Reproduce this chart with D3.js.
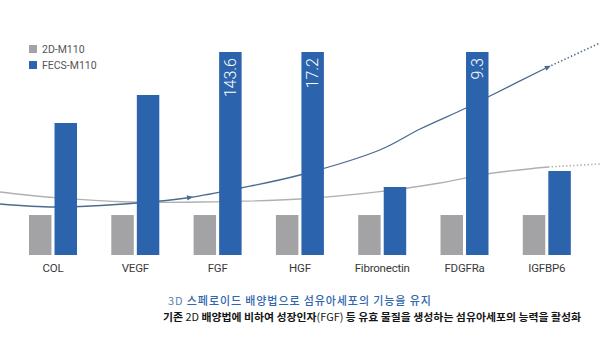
<!DOCTYPE html>
<html><head><meta charset="utf-8">
<script src="https://cdn.jsdelivr.net/npm/d3@7/dist/d3.min.js"></script>
<style>html,body{margin:0;padding:0;background:#fff;}svg{display:block;}</style>
</head><body><svg id="c" width="600" height="337"></svg>
<script>
const categories = ["COL","VEGF","FGF","HGF","Fibronectin","FDGFRa","IGFBP6"];
const seriesNames = ["2D-M110","FECS-M110"];
const values2D = [1,1,1,1,1,1,1];
const valuesFECS = [3.3,4.0,143.6,17.2,1.7,9.3,2.1];
const axisCap = 5.075;
// decorative trend curves, x in category-index units, y in value units
const blueTrendX = [-0.644,0.024,1.02,1.665,2.284,3.0,3.97,4.46,5.02,5.285,6.015];
const blueTrendY = [1.275,1.2,1.3,1.4375,1.675,2.0,2.625,3.15,3.675,3.95,4.7];
const blueDotX = [6.015,6.646];
const blueDotY = [4.7,5.3];
const blueArrowsAt = [1.665,6.015];
const grayTrendX = [-0.644,0.024,0.936,1.786,3.0,3.97,4.70,5.27,6.015];
const grayTrendY = [1.575,1.4325,1.325,1.325,1.4,1.5825,1.8,2.025,2.2];
const grayDotX = [6.015,6.646];
const grayDotY = [2.2,2.275];
const caption1 = [["3D ",400,"#5b7fb0"],["스페로이드 배양법으로 섬유아세포의 기능을 유지",500,"#2f66ae"]];
const caption2 = [["기존 ",700],["2D",400],[" 배양법에 비하여 성장인자",700],["(FGF)",400],[" 등 유효 물질을 생성하는 섬유아세포의 능력을 활성화",700]];

const colors = {"2D-M110":"#a3a3a6","FECS-M110":"#2b63ad"};
const svg = d3.select("#c");
const font = "Roboto, 'Liberation Sans', Arial, sans-serif";

const x0 = d3.scaleBand().domain(categories).range([11.85, 587.95]).padding(0);
const x1 = d3.scaleBand().domain(seriesNames).range([0,48]).paddingInner(0.12);
const y = d3.scaleLinear().domain([0, axisCap]).range([255, 52]);
const xi = d3.scaleLinear().domain([0,6]).range([x0(categories[0])+x0.bandwidth()/2, x0(categories[6])+x0.bandwidth()/2]);

// trend lines (behind bars)
const line = d3.line().x(d=>xi(d[0])).y(d=>y(d[1])).curve(d3.curveCatmullRom.alpha(0.5));
const lineStraight = d3.line().x(d=>xi(d[0])).y(d=>y(d[1]));
const gTrend = svg.append("g");
function drawTrend(xs, ys, dx, dy, color, arrows){
  const pts = xs.map((v,i)=>[v,ys[i]]);
  const p = gTrend.append("path").attr("d", line(pts)).attr("fill","none")
    .attr("stroke", color).attr("stroke-width",1.3);
  gTrend.append("path").attr("d", lineStraight(dx.map((v,i)=>[v,dy[i]]))).attr("fill","none")
    .attr("stroke", color).attr("stroke-width",1.6).attr("stroke-dasharray","1.4,2.2");
  const node = p.node(), L = node.getTotalLength();
  (arrows||[]).forEach(ax=>{
    const tx = xi(ax);
    let lo=0, hi=L;
    for(let k=0;k<40;k++){const m=(lo+hi)/2; if(node.getPointAtLength(m).x<tx) lo=m; else hi=m;}
    const a = node.getPointAtLength(Math.max(0,lo-2)), b = node.getPointAtLength(Math.min(L,lo));
    const ang = Math.atan2(b.y-a.y,b.x-a.x)*180/Math.PI;
    gTrend.append("path").attr("d","M3,0L-3,-2.6L-3,2.6Z").attr("fill",color)
      .attr("transform",`translate(${b.x},${b.y}) rotate(${ang})`);
  });
}
drawTrend(grayTrendX, grayTrendY, grayDotX, grayDotY, "#b0b0b0", []);
drawTrend(blueTrendX, blueTrendY, blueDotX, blueDotY, "#4b6b8f", blueArrowsAt);

// bars
const data = categories.map((c,i)=>({c, vals:[{s:seriesNames[0],v:values2D[i]},{s:seriesNames[1],v:valuesFECS[i]}]}));
const groups = svg.append("g").selectAll("g").data(data).join("g")
  .attr("transform", d=>`translate(${x0(d.c)+x0.bandwidth()/2-24},0)`);
groups.selectAll("rect").data(d=>d.vals).join("rect")
  .attr("x", d=>x1(d.s)).attr("width", x1.bandwidth())
  .attr("y", d=>y(Math.min(d.v,axisCap))).attr("height", d=>y(0)-y(Math.min(d.v,axisCap)))
  .attr("fill", d=>colors[d.s]);
groups.selectAll("text.vl").data(d=>d.vals.filter(v=>v.v>axisCap)).join("text")
  .attr("class","vl")
  .attr("transform", d=>`translate(${x1(d.s)+x1.bandwidth()/2},${y(axisCap)+6}) rotate(-90)`)
  .attr("text-anchor","end").attr("dominant-baseline","central")
  .attr("font-family",font).attr("font-size",16).attr("font-weight",300).attr("fill","#fff")
  .text(d=>d.v);

// category axis labels
const xAxis = d3.axisBottom(x0).tickSize(0).tickPadding(0);
const ax = svg.append("g").attr("transform","translate(0,264)").call(xAxis);
ax.select(".domain").remove();
ax.selectAll("text").attr("font-family",font).attr("font-size",11.5).attr("fill","#3a3a3a")
  .attr("dy","0.71em").attr("letter-spacing","-0.2");

// legend
const lg = svg.append("g").selectAll("g").data(seriesNames).join("g")
  .attr("transform",(d,i)=>`translate(29,${45+i*16})`);
lg.append("rect").attr("width",8).attr("height",8).attr("fill",d=>colors[d]);
lg.append("text").attr("x",13).attr("y",8).attr("font-family",font).attr("font-size",10.5)
  .attr("fill","#555").text(d=>d);

// captions
const cjk = "'Noto Sans CJK KR', 'Noto Sans', sans-serif";
const t1 = svg.append("text").attr("x",168).attr("y",304.5)
  .attr("font-family",cjk).attr("font-size",11).attr("letter-spacing",0.9);
caption1.forEach(([s,w,c])=>t1.append("tspan").attr("fill",c).attr("font-weight",w).text(s));
const t2 = svg.append("text").attr("x",163).attr("y",320.5)
  .attr("font-family",cjk).attr("font-size",10.5).attr("fill","#151515")
  .attr("textLength",418).attr("lengthAdjust","spacingAndGlyphs");
caption2.forEach(([s,w])=>t2.append("tspan").attr("font-weight",w).text(s));
</script></body></html>
